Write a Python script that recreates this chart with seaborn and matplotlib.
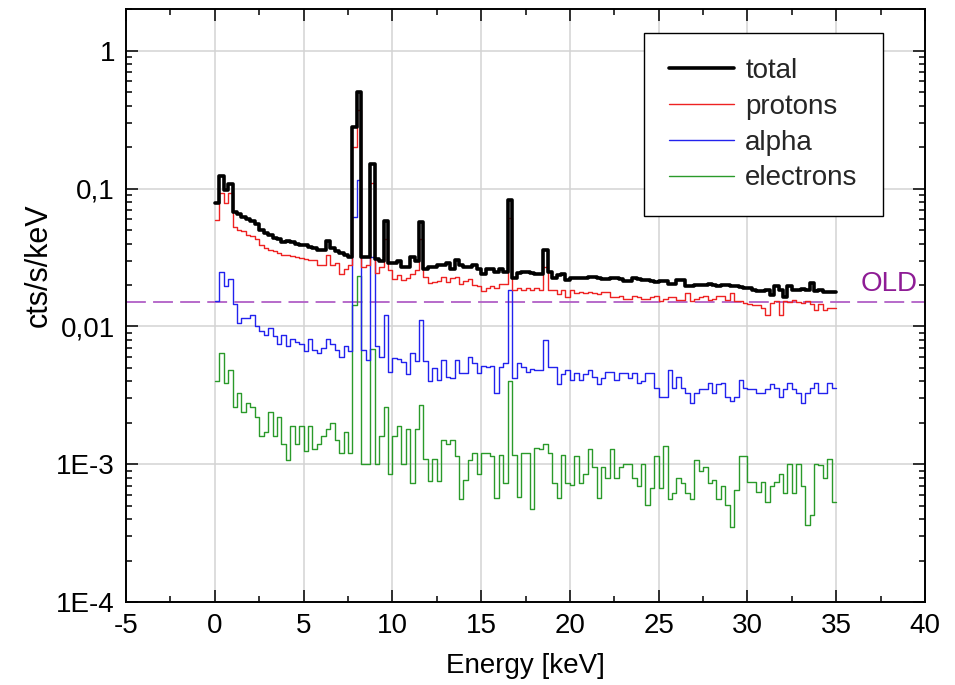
import numpy as np
import matplotlib
matplotlib.use("Agg")
import matplotlib.pyplot as plt
from matplotlib.ticker import FixedLocator, FixedFormatter, LogLocator, MultipleLocator, NullFormatter
import seaborn as sns

# spectra, 0.25 keV bins from 0 to 35 keV (value per bin, cts/s/keV)
bin_width = 0.25
energy_lo = np.arange(0, 35, bin_width)

total = [
    0.079, 0.124, 0.098, 0.108, 0.068, 0.065, 0.062, 0.060, 0.058, 0.055,
    0.050, 0.048, 0.046, 0.044, 0.043, 0.041, 0.042, 0.041, 0.040, 0.039,
    0.039, 0.038, 0.037, 0.036, 0.036, 0.042, 0.037, 0.035, 0.034, 0.033,
    0.032, 0.28, 0.50, 0.032, 0.032, 0.15, 0.031, 0.030, 0.058, 0.029,
    0.029, 0.030, 0.027, 0.027, 0.032, 0.030, 0.057, 0.026, 0.027, 0.027,
    0.028, 0.028, 0.029, 0.026, 0.0305, 0.028, 0.027, 0.027, 0.028, 0.026,
    0.024, 0.026, 0.026, 0.025, 0.026, 0.025, 0.083, 0.0225, 0.0245, 0.025,
    0.025, 0.0245, 0.024, 0.024, 0.036, 0.025, 0.0225, 0.0235, 0.024, 0.0218,
    0.0225, 0.0225, 0.0225, 0.0225, 0.023, 0.023, 0.0225, 0.022, 0.022, 0.0225,
    0.0225, 0.022, 0.0215, 0.0215, 0.0225, 0.022, 0.0218, 0.0218, 0.0215, 0.021,
    0.0213, 0.0213, 0.0205, 0.0205, 0.0218, 0.0218, 0.0197, 0.0197, 0.020, 0.020,
    0.020, 0.0205, 0.020, 0.0198, 0.020, 0.020, 0.0198, 0.0195, 0.0193, 0.019,
    0.019, 0.0185, 0.018, 0.018, 0.0183, 0.017, 0.0197, 0.0185, 0.0164, 0.0197,
    0.0183, 0.0183, 0.0188, 0.0183, 0.0208, 0.018, 0.0185, 0.0178, 0.0177, 0.0177,
]

protons = [
    0.059, 0.093, 0.079, 0.093, 0.053, 0.050, 0.049, 0.046, 0.045, 0.043,
    0.039, 0.037, 0.036, 0.035, 0.034, 0.033, 0.033, 0.0325, 0.032, 0.0316,
    0.031, 0.0305, 0.0305, 0.028, 0.028, 0.033, 0.028, 0.029, 0.024, 0.026,
    0.028, 0.20, 0.37, 0.027, 0.028, 0.11, 0.0245, 0.027, 0.043, 0.0255,
    0.022, 0.0235, 0.0218, 0.0225, 0.024, 0.0255, 0.043, 0.023, 0.0208, 0.021,
    0.0215, 0.023, 0.021, 0.0225, 0.023, 0.0205, 0.0215, 0.022, 0.020, 0.0195,
    0.018, 0.019, 0.0198, 0.019, 0.0205, 0.0205, 0.061, 0.0183, 0.019, 0.0183,
    0.019, 0.0183, 0.019, 0.0183, 0.027, 0.0185, 0.0183, 0.0171, 0.0183, 0.0164,
    0.0183, 0.0175, 0.0178, 0.0175, 0.0178, 0.0175, 0.0171, 0.0178, 0.0178, 0.0164,
    0.0164, 0.0167, 0.0159, 0.0159, 0.0167, 0.0164, 0.0159, 0.0159, 0.0164, 0.0167,
    0.0152, 0.0158, 0.0164, 0.0164, 0.0155, 0.0155, 0.0175, 0.0152, 0.0158, 0.0164,
    0.0167, 0.0155, 0.0158, 0.0167, 0.0167, 0.0155, 0.0175, 0.0152, 0.0152, 0.0148,
    0.0146, 0.0143, 0.0143, 0.0137, 0.0121, 0.0148, 0.0152, 0.0121, 0.0152, 0.015,
    0.0155, 0.015, 0.0148, 0.0152, 0.0146, 0.0132, 0.0146, 0.0132, 0.0137, 0.0137,
]

alpha = [
    0.0152, 0.025, 0.0195, 0.022, 0.0145, 0.0106, 0.0115, 0.0115, 0.0122, 0.010,
    0.0092, 0.0087, 0.0097, 0.0085, 0.0074, 0.0087, 0.0072, 0.0081, 0.0077, 0.0074,
    0.0066, 0.0081, 0.0068, 0.0064, 0.007, 0.0081, 0.0074, 0.0068, 0.006, 0.0072,
    0.0066, 0.062, 0.116, 0.0068, 0.0057, 0.032, 0.0072, 0.006, 0.0122, 0.0047,
    0.0059, 0.0058, 0.0055, 0.0045, 0.0064, 0.0056, 0.0111, 0.0056, 0.0040, 0.0050,
    0.0041, 0.0057, 0.0043, 0.0042, 0.0057, 0.0046, 0.0046, 0.006, 0.0054, 0.0046,
    0.0052, 0.0051, 0.0052, 0.0033, 0.0051, 0.0054, 0.0183, 0.0042, 0.0054, 0.0051,
    0.0047, 0.0049, 0.0048, 0.0048, 0.0080, 0.0051, 0.0051, 0.0038, 0.0045, 0.0048,
    0.0041, 0.0046, 0.0041, 0.0045, 0.0048, 0.0043, 0.0038, 0.0042, 0.0047, 0.0047,
    0.0041, 0.0046, 0.0046, 0.0042, 0.0046, 0.0039, 0.004, 0.0046, 0.0046, 0.0036,
    0.0031, 0.0031, 0.0048, 0.0036, 0.0043, 0.0036, 0.0033, 0.0028, 0.0033, 0.0035,
    0.0035, 0.0039, 0.0033, 0.0038, 0.0039, 0.0031, 0.0029, 0.0031, 0.0041, 0.0036,
    0.0035, 0.0035, 0.0033, 0.0033, 0.0035, 0.0038, 0.0036, 0.0031, 0.0035, 0.0039,
    0.0035, 0.0033, 0.0028, 0.0033, 0.0036, 0.0039, 0.0033, 0.0033, 0.0039, 0.0036,
]

electrons = [
    0.0040, 0.0064, 0.0039, 0.0048, 0.0026, 0.0033, 0.0024, 0.0028, 0.0026, 0.0022,
    0.0016, 0.0017, 0.0024, 0.0016, 0.0022, 0.0014, 0.00107, 0.0019, 0.0014, 0.0019,
    0.00125, 0.0019, 0.0013, 0.0014, 0.0016, 0.0018, 0.0020, 0.0015, 0.0012, 0.0017,
    0.0012, 0.0143, 0.0233, 0.0010, 0.0010, 0.0069, 0.0010, 0.0016, 0.0026, 0.00085,
    0.0016, 0.0019, 0.0010, 0.0018, 0.00073, 0.0018, 0.0027, 0.0011, 0.00075, 0.0011,
    0.00075, 0.0015, 0.0014, 0.0015, 0.00114, 0.00056, 0.00077, 0.00107, 0.0012, 0.00085,
    0.00121, 0.00121, 0.00114, 0.00057, 0.00117, 0.00073, 0.004, 0.00117, 0.00058, 0.00121,
    0.00121, 0.00047, 0.00131, 0.0013, 0.0014, 0.00121, 0.00073, 0.00057, 0.00117, 0.00073,
    0.00071, 0.00114, 0.00073, 0.00085, 0.00128, 0.00095, 0.00057, 0.00095, 0.0008, 0.00128,
    0.0008, 0.00095, 0.00101, 0.00101, 0.0008, 0.00069, 0.00101, 0.00051, 0.00067, 0.00114,
    0.00067, 0.00135, 0.00056, 0.00062, 0.0008, 0.00073, 0.00062, 0.00056, 0.00107, 0.0009,
    0.00095, 0.00073, 0.00077, 0.00056, 0.00069, 0.00051, 0.00035, 0.00065, 0.00114, 0.00114,
    0.00074, 0.00074, 0.00063, 0.00074, 0.00053, 0.0007, 0.00074, 0.00085, 0.00062, 0.00101,
    0.00062, 0.00101, 0.0007, 0.00036, 0.00043, 0.00101, 0.00098, 0.0008, 0.0011, 0.00053,
]

old_level = 0.015

x_ticks = [-5, 0, 5, 10, 15, 20, 25, 30, 35, 40]
x_tick_labels = ["-5", "0", "5", "10", "15", "20", "25", "30", "35", "40"]
y_ticks = [1e-4, 1e-3, 1e-2, 1e-1, 1]
y_tick_labels = ["1E-4", "1E-3", "0,01", "0,1", "1"]

series = {"total": total, "protons": protons, "alpha": alpha, "electrons": electrons}
styles = {
    "total": dict(color="black", linewidth=2.6),
    "protons": dict(color="#ee2222", linewidth=1.0),
    "alpha": dict(color="#2222ee", linewidth=1.0),
    "electrons": dict(color="#2a9a2a", linewidth=1.0),
}

sns.set_theme(style="ticks")
plt.rcParams["font.family"] = ["Liberation Sans", "DejaVu Sans"]

fig = plt.figure(figsize=(9.55, 6.85), dpi=100)
ax = fig.add_axes([0.132, 0.1212, 0.8366, 0.865])

# electrons first so the total curve ends up on top
for name in ["electrons", "alpha", "protons", "total"]:
    vals = series[name]
    x = np.append(energy_lo, energy_lo[-1] + bin_width)
    y = np.append(vals, vals[-1])
    sns.lineplot(x=x, y=y, drawstyle="steps-post", ax=ax, label=name,
                 estimator=None, sort=False, **styles[name])

ax.axhline(old_level, color="#b15fc6", linewidth=1.3, dashes=(11, 4), zorder=1)
ax.text(38.0, 0.0205, "OLD", color="#8e1c95", fontsize=20, ha="center", va="center")

ax.set_yscale("log")
ax.set_xlim(-5, 40)
ax.set_ylim(1e-4, 2)

ax.xaxis.set_major_locator(FixedLocator(x_ticks))
ax.xaxis.set_major_formatter(FixedFormatter(x_tick_labels))
ax.xaxis.set_minor_locator(MultipleLocator(2.5))
ax.yaxis.set_major_locator(FixedLocator(y_ticks))
ax.yaxis.set_major_formatter(FixedFormatter(y_tick_labels))
ax.yaxis.set_minor_locator(LogLocator(base=10, subs=np.arange(2, 10)))
ax.yaxis.set_minor_formatter(NullFormatter())

ax.tick_params(which="both", direction="in", top=True, right=True,
               color="black", width=1.1, labelsize=20, labelcolor="black")
ax.tick_params(which="major", length=8.5, pad=8)
ax.tick_params(which="minor", length=4.5)

ax.grid(True, which="major", color="#d3d3d3", linewidth=1.1)
ax.set_axisbelow(True)
for sp in ax.spines.values():
    sp.set_color("black")
    sp.set_linewidth(1.4)

ax.set_xlabel("Energy [keV]", fontsize=20, labelpad=10, color="black")
ax.set_ylabel("cts/s/keV", fontsize=22, labelpad=2, color="black")
ax.yaxis.label.set_y(0.569)

handles, labels = ax.get_legend_handles_labels()
lookup = dict(zip(labels, handles))
order = ["total", "protons", "alpha", "electrons"]
leg = ax.legend([lookup[k] for k in order], order, loc="upper right",
                bbox_to_anchor=(0.947, 0.96), fontsize=20, frameon=True,
                fancybox=False, edgecolor="black", framealpha=1,
                handlelength=2.35, handletextpad=0.4, labelspacing=0.35,
                borderpad=0.9, borderaxespad=0)
leg.get_frame().set_linewidth(1.0)

fig.savefig("out.png", dpi=100)
